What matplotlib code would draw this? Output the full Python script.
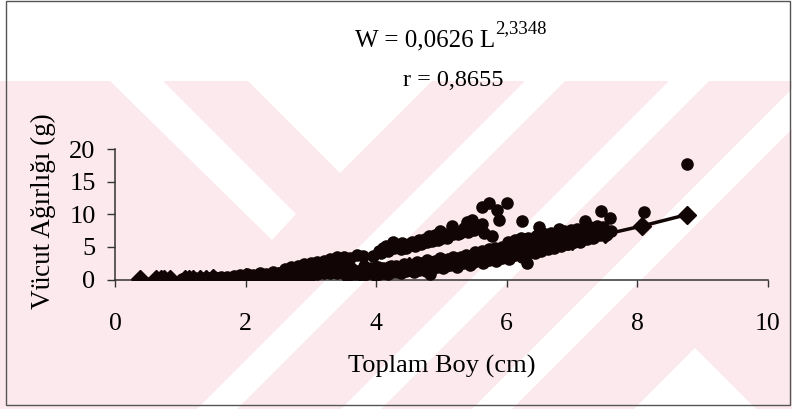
import matplotlib
matplotlib.use('Agg')
import matplotlib.pyplot as plt
from matplotlib.patches import Polygon, Rectangle

plt.rcParams['font.family'] = ['Liberation Serif', 'DejaVu Serif']

# lower (main) band of length-weight observations
lower_len = [0.38, 0.63, 0.70, 0.75, 0.84, 1.05, 1.10, 1.15, 1.20, 1.25, 1.30, 1.35,
             1.40, 1.45, 1.50, 1.55, 1.60, 1.65, 1.70, 1.75, 1.80, 1.85, 1.90, 1.95,
             2.00, 2.05, 2.10, 2.15, 2.20, 2.25, 2.30, 2.35, 2.40, 2.45, 2.50, 2.55,
             2.60, 2.65, 2.70, 2.75, 2.80, 2.85, 2.90, 2.95, 3.00, 3.05, 3.10, 3.15,
             3.20, 3.25, 3.30, 3.35, 3.40, 3.45, 3.50, 3.55, 3.60, 3.65, 3.70, 3.75,
             3.80, 3.85, 3.90, 3.95, 4.00, 4.05, 4.10, 4.15, 4.20, 4.25, 4.30, 4.35,
             4.40, 4.45, 4.50, 4.55, 4.60, 4.65, 4.70, 4.75, 4.80, 4.82, 4.85, 4.90,
             4.95, 5.00, 5.05, 5.10, 5.15, 5.20, 5.25, 5.30, 5.35, 5.40, 5.45, 5.50,
             5.55, 5.60, 5.65, 5.70, 5.75, 5.80, 5.85, 5.90, 5.95, 6.00, 6.05, 6.10,
             6.15, 6.20, 6.25, 6.30, 6.31, 6.35, 6.40, 6.45, 6.50, 6.55, 6.60, 6.65,
             6.70, 6.75, 6.80, 6.85, 6.90, 6.95, 7.00, 7.05, 7.10, 7.15, 7.20, 7.25,
             7.30, 7.35, 7.40, 7.45, 7.50, 7.55, 7.60,
             3.52, 3.62, 3.72, 3.82, 3.92, 4.02, 4.12, 4.22, 4.32, 4.42, 4.52, 4.62,
             4.72, 4.78, 4.88, 4.97, 5.07, 5.17, 5.27, 5.37, 5.47, 5.57, 5.67, 5.77,
             5.87, 5.97, 6.07, 6.17, 6.27, 6.42, 6.52, 6.62, 6.72, 6.82, 6.92, 7.02,
             7.12, 7.22, 7.32, 7.42, 7.52,
             3.58, 3.68, 3.78, 3.88, 3.98, 4.08, 4.18, 4.28, 4.38, 4.48, 4.58, 4.68,
             4.76, 4.86, 4.93, 5.03, 5.13, 5.23, 5.33, 5.43, 5.53, 5.63, 5.73, 5.83,
             5.93, 6.03, 6.13, 6.23, 6.33, 6.43, 6.53, 6.63, 6.73, 6.83, 6.93, 7.03,
             7.13, 7.23, 7.33, 7.43, 7.53,
             5.52, 5.62, 5.72, 5.82, 5.92, 6.02, 6.12, 6.22, 6.32, 6.44, 6.58, 6.68,
             6.78, 6.88, 6.98, 7.08, 7.18, 7.28, 7.38, 7.48,
             1.02, 1.12, 1.22, 1.32, 1.42, 1.52, 1.62, 1.72, 1.82, 1.92, 2.02, 2.12,
             2.22, 2.32, 2.42, 2.52, 2.62, 2.72, 2.82, 2.92, 3.02, 3.12, 3.22, 3.32, 3.42]
lower_wt = [0.01, 0.02, 0.03, 0.03, 0.04, 0.04, 0.05, 0.06, 0.07, 0.08, 0.09, 0.10,
            0.12, 0.14, 0.15, 0.18, 0.20, 0.22, 0.25, 0.28, 0.30, 0.33, 0.36, 0.40,
            0.30, 0.45, 0.38, 0.55, 0.42, 0.60, 0.48, 0.75, 0.50, 0.65, 0.55, 0.80,
            0.60, 0.95, 0.66, 1.00, 0.70, 1.10, 0.75, 1.30, 0.80, 1.20, 0.90, 1.50,
            0.95, 1.40, 1.00, 1.70, 1.05, 1.60, 1.10, 1.90, 0.90, 1.50, 1.20, 1.00,
            1.40, 0.90, 1.50, 1.10, 1.60, 0.80, 1.70, 1.30, 1.90, 1.10, 2.00, 1.50,
            2.10, 1.30, 2.20, 1.70, 2.40, 1.50, 2.50, 1.90, 2.70, 0.80, 2.10, 2.80,
            2.20, 3.00, 2.40, 3.10, 2.60, 3.30, 2.70, 3.40, 2.90, 3.60, 3.00, 3.80,
            3.20, 4.00, 3.30, 4.20, 3.50, 4.50, 3.70, 4.70, 3.90, 4.90, 4.10, 5.50,
            4.30, 5.70, 4.50, 5.90, 2.60, 4.70, 6.00, 5.00, 6.20, 5.20, 6.30, 5.40,
            6.50, 5.70, 6.80, 5.90, 6.90, 6.10, 7.00, 6.30, 7.20, 6.50, 7.40, 6.70,
            7.50, 6.90, 7.70, 7.10, 7.60, 7.30, 7.50,
            1.40, 1.70, 1.30, 2.00, 1.80, 1.90, 1.00, 2.10, 1.20, 2.40, 1.40, 2.70,
            1.60, 3.00, 1.90, 3.30, 2.00, 3.50, 2.30, 3.80, 2.60, 4.10, 2.90, 4.40,
            3.20, 4.80, 3.60, 5.10, 3.90, 5.50, 4.40, 5.80, 4.90, 6.20, 5.40, 6.60,
            5.80, 7.00, 6.30, 7.40, 6.80,
            0.70, 0.90, 0.60, 1.00, 0.70, 1.10, 0.90, 1.30, 1.00, 1.50, 1.10, 1.70,
            1.30, 1.60, 1.90, 1.70, 2.20, 1.90, 2.50, 2.20, 2.80, 2.50, 3.00, 2.80,
            3.30, 3.10, 3.70, 3.50, 4.00, 4.10, 4.50, 4.70, 5.00, 5.20, 5.50, 5.70,
            6.10, 6.20, 6.50, 6.80, 7.00,
            4.20, 4.40, 4.60, 4.80, 5.00, 5.80, 6.00, 6.30, 6.40, 6.70, 6.90, 7.10,
            7.30, 7.50, 7.60, 7.80, 7.90, 8.10, 8.20, 8.00,
            0.10, 0.15, 0.20, 0.20, 0.30, 0.35, 0.40, 0.45, 0.55, 0.70, 0.80, 0.65,
            1.00, 0.85, 1.10, 1.00, 1.30, 1.10, 1.50, 1.20, 1.70, 1.40, 1.90, 1.60, 2.20]

# upper band and scattered heavy fish
upper_len = [2.60, 2.70, 2.80, 2.90, 3.00, 3.10, 3.20, 3.30, 3.40, 3.50, 3.60, 3.70,
             3.80, 3.95, 4.05, 4.08, 4.10, 4.15, 4.18, 4.20, 4.26, 4.28, 4.30, 4.35,
             4.38, 4.40, 4.45, 4.48, 4.50, 4.55, 4.58, 4.60, 4.65, 4.68, 4.70, 4.75,
             4.78, 4.81, 4.85, 4.88, 4.90, 4.95, 4.98, 5.00, 5.05, 5.08, 5.10, 5.16,
             5.18, 5.20, 5.25, 5.28, 5.31, 5.35, 5.39, 5.40, 5.45, 5.47, 5.50, 5.55,
             5.58, 5.62, 5.62, 5.65, 5.73, 5.77, 5.85, 5.88, 6.00, 6.23, 6.49, 6.80,
             7.20, 7.44, 7.58, 8.10, 8.76]
upper_wt = [1.6, 1.9, 2.0, 2.3, 2.5, 2.7, 2.9, 3.1, 3.4, 3.5, 3.3, 3.7,
            3.6, 3.6, 4.3, 4.0, 4.9, 5.2, 4.4, 4.6, 5.7, 4.8, 5.2, 5.1,
            4.7, 5.6, 4.9, 5.2, 5.4, 5.8, 5.5, 5.1, 6.0, 5.4, 5.6, 6.2,
            5.8, 6.6, 5.9, 6.1, 6.8, 6.0, 7.5, 6.3, 7.0, 6.4, 6.6, 8.2,
            6.9, 7.2, 6.9, 7.1, 7.4, 7.9, 8.8, 7.3, 7.8, 9.1, 7.6, 8.0,
            7.9, 8.5, 11.1, 7.2, 11.8, 6.6, 10.6, 9.1, 11.7, 8.9, 8.0, 7.7,
            8.9, 10.5, 9.4, 10.3, 17.7]

# fitted curve W = 0,0626 L^2,3348
fit_len = [0.38, 0.63, 0.70, 0.75, 0.84, 1.07, 1.13, 1.20, 1.30, 1.40, 1.50, 2.00,
           2.50, 3.00, 3.50, 4.00, 4.50, 5.00, 5.50, 6.00, 6.50, 7.00, 7.50, 8.07, 8.76]
fit_wt = [0.01, 0.02, 0.03, 0.03, 0.04, 0.07, 0.08, 0.09, 0.11, 0.14, 0.16, 0.32,
          0.53, 0.81, 1.17, 1.59, 2.10, 2.68, 3.35, 4.10, 4.95, 5.88, 6.91, 8.20, 9.95]

x_ticks = [0, 2, 4, 6, 8, 10]
y_ticks = [0, 5, 10, 15, 20]

W, H = 792, 409
fig = plt.figure(figsize=(W / 100, H / 100), dpi=100)


def px(x, y):
    # pixel position (top-left origin) -> figure fraction
    return (x / W, 1 - y / H)


# faint pink watermark of the scanned page
pink = '#fce9ed'
fig.add_artist(Rectangle(px(0, 409), 1, (409 - 81) / H, transform=fig.transFigure,
                         facecolor=pink, edgecolor='none', zorder=-10))
white_shapes = [
    [(110, 81), (163, 81), (296, 214), (272, 240)],
    [(248, 81), (432, 81), (340, 173)],
    [(525, 81), (565, 81), (237, 409), (197, 409)],
    [(669, 81), (709, 81), (381, 409), (341, 409)],
    [(800, 81), (840, 81), (512, 409), (472, 409)],
    [(695, 348), (756, 409), (634, 409)],
]
for shape in white_shapes:
    fig.add_artist(Polygon([px(*p) for p in shape], closed=True, transform=fig.transFigure,
                           facecolor='white', edgecolor='none', zorder=-9))

# frame around the chart
fig.add_artist(Rectangle(px(6, 405), (790 - 6) / W, (405 - 1) / H, transform=fig.transFigure,
                         fill=False, edgecolor='#555555', linewidth=1.0))

ax = fig.add_axes([115 / W, 1 - 279.5 / H, 653 / W, 130.5 / H])
ax.set_facecolor('none')

dot = '#110505'
ax.scatter(lower_len, lower_wt, s=82, color=dot, zorder=3, linewidths=0)
ax.scatter(upper_len, upper_wt, s=82, color=dot, zorder=3, linewidths=0)
ax.plot(fit_len, fit_wt, '-', color=dot, lw=2.5, marker='D', markersize=9, zorder=4)

ax.set_xlim(0, 10)
ax.set_ylim(0, 20)
ax.set_xticks(x_ticks)
ax.set_yticks(y_ticks)
for side in ('top', 'right'):
    ax.spines[side].set_visible(False)
for side in ('left', 'bottom'):
    ax.spines[side].set_color('#333333')
    ax.spines[side].set_linewidth(1.1)
ax.tick_params(axis='x', direction='out', length=5, width=1, color='#333333',
               labelsize=18.5, pad=19)
ax.tick_params(axis='y', direction='out', length=6, width=1, color='#333333',
               labelsize=19, pad=8)

ax.set_xlabel('Toplam Boy (cm)', fontsize=19, va='center')
ax.xaxis.set_label_coords(0.5, -0.67)
ax.set_ylabel('Vücut Ağırlığı (g)', fontsize=19.5, va='center')
ax.yaxis.set_label_coords(-0.109, 0.525)

eq = fig.text(355 / W, 1 - 46 / H, 'W = 0,0626 L', fontsize=18, ha='left', va='baseline')
ax.annotate('2,3348', xy=(1.0, 0.62), xycoords=eq, fontsize=13.5, ha='left', va='bottom')
fig.text(453 / W, 1 - 80 / H, 'r = 0,8655', fontsize=17.5, ha='center', va='center')

fig.savefig('out.png', dpi=100)
